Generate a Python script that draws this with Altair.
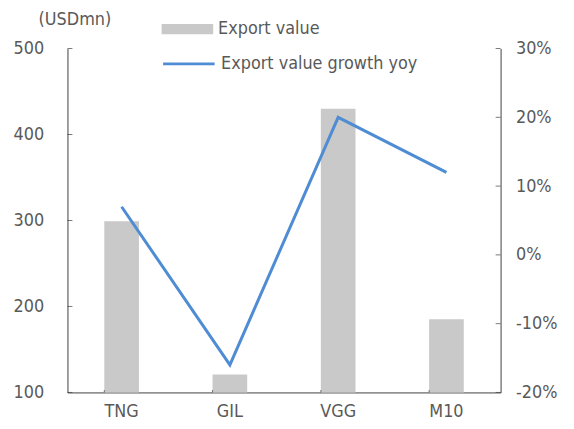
import altair as alt
import pandas as pd

companies = ["TNG", "GIL", "VGG", "M10"]
export_value = [299, 121, 430, 185]
growth_yoy = [7, -16, 20, 12]
left_ticks = [100, 200, 300, 400, 500]
right_ticks = [-20, -10, 0, 10, 20, 30]
bar_name = "Export value"
line_name = "Export value growth yoy"

df = pd.DataFrame({"company": companies, "value": export_value, "growth": growth_yoy,
                   "bar_s": [bar_name] * 4, "line_s": [line_name] * 4})
lt = pd.DataFrame({"value": left_ticks})
rt = pd.DataFrame({"growth": right_ticks})
xt = pd.DataFrame({"company": companies})

W, H = 437, 347
FONT = "DejaVu Sans Condensed, DejaVu Sans"
AX = "#404040"
TX = "#595959"
FS = 18

xscale = alt.Scale(domain=companies, paddingInner=0.68, paddingOuter=0.34)
yl = alt.Scale(domain=[100, 500], nice=False, zero=False)
yr = alt.Scale(domain=[-20, 30], nice=False, zero=False)

xaxis = alt.Axis(title=None, labelAngle=0, ticks=False, labelPadding=10, domainColor=AX)
laxis = alt.Axis(values=left_ticks, format="d", title="(USDmn)", titleAngle=0,
                 titleX=7, titleY=-29, titleAlign="center", titleBaseline="middle",
                 titleFont=FONT, titleFontSize=FS, titleColor=TX, titleFontWeight="normal",
                 ticks=False, labelPadding=24, domainColor=AX)
raxis = alt.Axis(orient="right", values=right_ticks, labelExpr="datum.value + '%'",
                 title=None, ticks=False, labelPadding=15, domainColor=AX)

bars = alt.Chart(df).mark_bar(color="#c9c9c9").encode(
    x=alt.X("company:N", scale=xscale, sort=None, axis=xaxis),
    y=alt.Y("value:Q", scale=yl, axis=laxis),
    y2=alt.datum(100),
    fill=alt.Fill("bar_s:N", scale=alt.Scale(domain=[bar_name], range=["#c9c9c9"]),
                  legend=alt.Legend(orient="none", legendX=95, legendY=-45.5, title=None,
                                    symbolType="M-1,-0.2H1V0.2H-1Z", symbolSize=2704,
                                    symbolStrokeWidth=0, labelOffset=5, padding=0,
                                    labelLimit=400)),
)
lticks = alt.Chart(lt).mark_tick(color=AX, thickness=1, size=5).encode(
    y=alt.Y("value:Q", scale=yl, axis=laxis), x=alt.value(2.5))
xticks = alt.Chart(xt).mark_tick(color=AX, thickness=1, size=5).encode(
    x=alt.X("company:N", scale=xscale, sort=None, bandPosition=0, axis=xaxis),
    y=alt.value(H - 2.5))

line = alt.Chart(df).mark_line(strokeWidth=3).encode(
    x=alt.X("company:N", scale=xscale, sort=None, axis=xaxis),
    y=alt.Y("growth:Q", scale=yr, axis=raxis),
    stroke=alt.Stroke("line_s:N", scale=alt.Scale(domain=[line_name], range=["#4e8cd3"]),
                      legend=alt.Legend(orient="none", legendX=95, legendY=-12, title=None,
                                        symbolType="stroke", symbolSize=2704,
                                        symbolStrokeWidth=3, labelOffset=5, padding=0,
                                        labelLimit=400)),
)
rticks = alt.Chart(rt).mark_tick(color=AX, thickness=1, size=5).encode(
    y=alt.Y("growth:Q", scale=yr, axis=raxis), x=alt.value(W - 2.5))

left = alt.layer(bars, lticks, xticks)
right = alt.layer(line, rticks)

chart = alt.layer(left, right).resolve_scale(y="independent", fill="independent", stroke="independent").properties(
    width=W, height=H, autosize="none",
    padding={"left": 60, "top": 39, "right": 66, "bottom": 35},
).configure_view(stroke=None).configure_axis(
    grid=False, labelFont=FONT, labelFontSize=FS, labelColor=TX, domainWidth=1,
).configure_legend(labelFont=FONT, labelFontSize=FS, labelColor=TX)

chart.save("out.html", embed_options={"renderer": "svg", "actions": False})
